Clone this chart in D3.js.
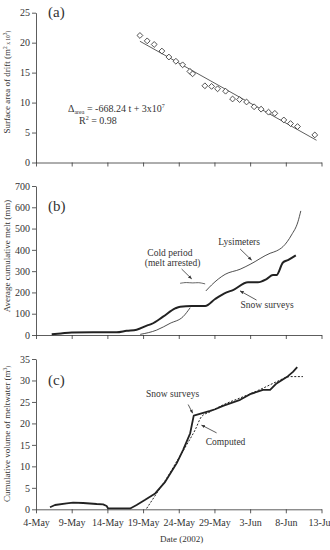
<!DOCTYPE html>
<html>
<head>
<meta charset="utf-8">
<script src="https://cdn.jsdelivr.net/npm/d3@7"></script>
<style>
  body { margin: 0; background: white; }
  text { font-family: "Liberation Serif", "DejaVu Serif", serif; fill: #333; }
</style>
</head>
<body>
<div id="chart"></div>
<script>
// days counted from 4-May-2002
const tickDays = [0, 5, 10, 15, 20, 25, 30, 35, 40];
const tickLabels = ["4-May", "9-May", "14-May", "19-May", "24-May", "29-May", "3-Jun", "8-Jun", "13-Jun"];

// (a) surface area of drift (m2 x 10^3)
const areaDays = [14.56, 15.58, 16.56, 17.64, 18.62, 19.6, 20.54, 21.56, 21.94, 23.66, 24.6, 25.44,
  26.56, 27.54, 28.52, 29.5, 30.56, 31.54, 32.58, 33.46, 34.72, 35.66, 36.64, 39.06];
const areaVals = [21.2, 20.3, 19.7, 18.6, 17.6, 16.9, 16.3, 15.2, 14.8, 12.8, 12.7, 12.3,
  11.9, 10.6, 10.5, 10.1, 9.3, 8.9, 8.4, 8.2, 7.1, 6.5, 6.0, 4.6];

// (b) average cumulative melt (mm)
const snowMeltDays = [2.2, 3.5, 5, 8, 11.3, 12.7, 14.1, 15.6, 16.2, 17.8, 19.5, 20.2, 21.8, 23.7,
  25.1, 26.7, 27.6, 29.7, 31.1, 32.3, 33.2, 33.7, 34.6, 35.3, 36.4];
const snowMeltVals = [3, 7, 12, 13, 13, 20, 25, 45, 52, 86, 125, 133, 136, 136,
  169, 200, 211, 248, 248, 263, 282, 282, 341, 352, 374];
const lysDays1 = [14.6, 16.9, 18.8, 20.6, 21.6];
const lysVals1 = [3, 23, 55, 86, 128];
const lysDays2 = [23.8, 24.6, 26.5, 28.6, 30, 32.8, 33.7, 34.6, 35.8, 36.7, 37.1];
const lysVals2 = [207, 235, 285, 309, 332, 384, 395, 415, 470, 532, 583];
const coldDays = [20.2, 21.1, 22, 22.7, 23.7];
const coldVals = [243, 248, 243, 248, 240];

// (c) cumulative volume of meltwater (m3)
const snowVolDays = [1.96, 2.66, 4.3, 5.2, 6.6, 8.5, 9.4, 9.9, 10.1, 13.2, 14.1, 15.3, 16.7, 18.1,
  19.7, 20.6, 21.6, 22.1, 24.4, 25.1, 26.2, 28.6, 30, 31.8, 32.8, 33.7, 35.3, 36, 36.6];
const snowVolVals = [0.47, 1.0, 1.4, 1.54, 1.47, 1.23, 1.16, 0.77, 0.2, 0.2, 1.0, 2.2, 3.7, 6.4,
  10.7, 13.8, 17.7, 21.8, 22.9, 23.3, 24.1, 25.5, 26.8, 27.8, 27.8, 29.3, 31.0, 32.0, 33.1];
const compDays = [15.5, 16.9, 18.3, 19.7, 21.1, 22.3, 23.2, 24.4, 26.2, 29, 31.8, 33.7, 35.6, 37.4];
const compVals = [0.2, 3.7, 7.2, 11.1, 15, 18.5, 21.6, 22.7, 24.3, 26.2, 28.2, 29.7, 30.9, 30.9];

const width = 330, height = 550;
const svg = d3.select("#chart").append("svg")
  .attr("width", width).attr("height", height)
  .style("background-color", "white");

svg.append("defs").append("marker")
  .attr("id", "arrow").attr("viewBox", "0 0 10 10")
  .attr("refX", 9).attr("refY", 5)
  .attr("markerWidth", 5).attr("markerHeight", 5)
  .attr("orient", "auto")
  .append("path").attr("d", "M0,1L10,5L0,9Z").attr("fill", "#333");

const x = d3.scaleLinear().domain([0, 40]).range([36, 321.5]);

const panels = [
  {id: "a", top: 12.7, bottom: 162.5, max: 25, ticks: d3.range(0, 26, 5), label: "(a)", labY: 17},
  {id: "b", top: 186, bottom: 335, max: 700, ticks: d3.range(0, 701, 100), label: "(b)", labY: 211},
  {id: "c", top: 359, bottom: 509.3, max: 35, ticks: d3.range(0, 36, 5), label: "(c)", labY: 385}
];

const ys = {};
panels.forEach(p => {
  const y = d3.scaleLinear().domain([0, p.max]).range([p.bottom, p.top]);
  ys[p.id] = y;
  const ya = svg.append("g").attr("transform", `translate(${x(0)},0)`)
    .call(d3.axisLeft(y).tickValues(p.ticks).tickSize(4).tickSizeOuter(0).tickPadding(2));
  const xa = svg.append("g").attr("transform", `translate(0,${p.bottom})`)
    .call(d3.axisBottom(x).tickValues(tickDays).tickSize(4).tickSizeOuter(0).tickPadding(6)
      .tickFormat((d, i) => p.id === "c" ? tickLabels[i] : ""));
  [ya, xa].forEach(g => {
    g.attr("font-family", null);
    g.selectAll("path, line").attr("stroke", "#333").attr("stroke-width", 0.8);
    g.selectAll("text").attr("font-size", 10).attr("fill", "#333");
  });
  svg.append("text").attr("x", 48).attr("y", p.labY)
    .attr("font-size", 15).text(p.label);
});

function zip(a, b) { return a.map((d, i) => [d, b[i]]); }
function drawLine(panel, days, vals, w, dash, curve) {
  const y = ys[panel];
  svg.append("path").datum(zip(days, vals))
    .attr("fill", "none").attr("stroke", "#222").attr("stroke-width", w)
    .attr("stroke-dasharray", dash || null)
    .attr("stroke-linejoin", "round")
    .attr("d", d3.line().x(d => x(d[0])).y(d => y(d[1])).curve(curve || d3.curveLinear));
}
function note(panel, day, val, str, size) {
  return svg.append("text").attr("x", x(day)).attr("y", ys[panel](val))
    .attr("text-anchor", "middle").attr("font-size", size || 9.5).text(str);
}
function arrow(panel, d0, v0, d1, v1) {
  const y = ys[panel];
  svg.append("line").attr("x1", x(d0)).attr("y1", y(v0)).attr("x2", x(d1)).attr("y2", y(v1))
    .attr("stroke", "#333").attr("stroke-width", 0.8).attr("marker-end", "url(#arrow)");
}

// (a) regression line + diamonds
const pts = zip(areaDays, areaVals);
const mx = d3.mean(areaDays), my = d3.mean(areaVals);
const slope = d3.sum(pts, d => (d[0] - mx) * (d[1] - my)) / d3.sum(pts, d => (d[0] - mx) ** 2);
const icpt = my - slope * mx;
const fitEnds = [areaDays[0], 39.3];
svg.append("line")
  .attr("x1", x(fitEnds[0])).attr("y1", ys.a(icpt + slope * fitEnds[0]))
  .attr("x2", x(fitEnds[1])).attr("y2", ys.a(icpt + slope * fitEnds[1]))
  .attr("stroke", "#333").attr("stroke-width", 0.8);
svg.selectAll(".pt").data(pts).enter().append("path")
  .attr("class", "pt")
  .attr("transform", d => `translate(${x(d[0])},${ys.a(d[1])}) rotate(45)`)
  .attr("d", d3.symbol(d3.symbolSquare, 17))
  .attr("fill", "white").attr("stroke", "#333").attr("stroke-width", 0.8);

const eq = svg.append("text").attr("x", x(4.48)).attr("y", ys.a(8.46)).attr("font-size", 10);
eq.append("tspan").text("\u0394");
eq.append("tspan").attr("font-size", 6).attr("dy", 2).text("area");
eq.append("tspan").attr("dy", -2).text(" = -668.24 t + 3x10");
eq.append("tspan").attr("font-size", 6).attr("dy", -4).text("7");
const r2 = svg.append("text").attr("x", x(6.02)).attr("y", ys.a(6.4)).attr("font-size", 10);
r2.append("tspan").text("R");
r2.append("tspan").attr("font-size", 6).attr("dy", -4).text("2");
r2.append("tspan").attr("dy", 4).text(" = 0.98");

// (b)
drawLine("b", snowMeltDays, snowMeltVals, 2, null, d3.curveMonotoneX);
drawLine("b", lysDays1, lysVals1, 0.8, null, d3.curveMonotoneX);
drawLine("b", lysDays2, lysVals2, 0.8, null, d3.curveMonotoneX);
drawLine("b", coldDays, coldVals, 0.7, null, d3.curveBasis);
note("b", 18.76, 373, "Cold period");
note("b", 19.14, 322, "(melt arrested)");
arrow("b", 20.4, 310, 21.8, 264);
note("b", 28.46, 423, "Lysimeters");
arrow("b", 28.6, 404, 30.2, 352);
note("b", 32.38, 127, "Snow surveys");
arrow("b", 30.9, 164, 28.6, 207);

// (c)
drawLine("c", compDays, compVals, 1, "2,1.6", d3.curveMonotoneX);
drawLine("c", snowVolDays, snowVolVals, 1.8, null, d3.curveLinear);
note("c", 19.14, 26.2, "Snow surveys");
arrow("c", 21.32, 24.4, 21.94, 22.4);
note("c", 26.56, 15.0, "Computed");
arrow("c", 25.3, 17.8, 23.2, 19.6);

// axis titles
function ytitle(cy, parts) {
  const t = svg.append("text").attr("transform", `translate(10,${cy}) rotate(-90)`)
    .attr("text-anchor", "middle").attr("font-size", 9);
  parts.forEach(p => {
    const s = t.append("tspan").text(p[0]);
    if (p[1]) s.attr("font-size", 5.5).attr("dy", p[1]);
  });
}
ytitle(82, [["Surface area of drift (m"], ["2", -3.5], [" x 10", 3.5], ["3", -3.5], [")", 3.5]]);
ytitle(256, [["Average cumulative melt (mm)"]]);
ytitle(434, [["Cumulative volume of meltwater (m"], ["3", -3.5], [")", 3.5]]);
svg.append("text").attr("x", x(20.4)).attr("y", 542)
  .attr("text-anchor", "middle").attr("font-size", 9).text("Date (2002)");
</script>
</body>
</html>
